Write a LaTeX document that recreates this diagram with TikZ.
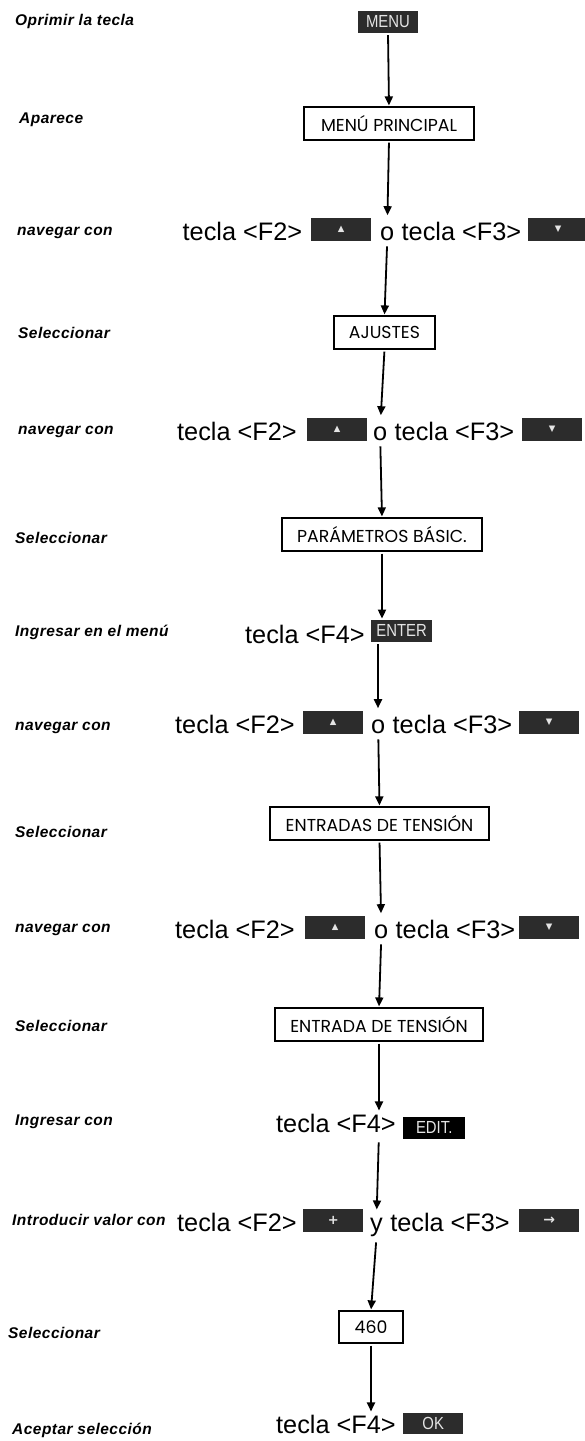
\documentclass[tikz,border=0pt]{standalone}
\usepackage{fontspec}
\setmainfont{Liberation Sans}
\newfontfamily\boxfont{Poppins}
\newfontfamily\symfont{DejaVu Sans}
\newfontfamily\keyfont[FakeStretch=0.85]{Liberation Sans}
\newfontfamily\lblfont[LetterSpace=3]{Liberation Sans}
\usetikzlibrary{arrows.meta,calc}
\definecolor{keygray}{HTML}{2C2C2C}
\definecolor{keytext}{HTML}{E4E4E4}
\tikzset{
  lbl/.style={font=\lblfont\fontsize{15.5}{17}\selectfont\bfseries\itshape, anchor=west, inner sep=0},
  big/.style={font=\fontsize{25.3}{28}\selectfont, inner sep=0, anchor=base west},
  key/.style={fill=keygray, text=keytext, minimum width=60pt, minimum height=23pt, inner sep=0, anchor=south west, font=\keyfont\fontsize{17.5}{18}\selectfont},
  menubox/.style={draw=black, line width=1.2pt, fill=white, minimum height=33pt, inner sep=0, font=\boxfont\fontsize{17.3}{19}\selectfont},
  arr/.style={line width=1.8pt, -{Triangle[length=9pt,width=8pt]}, shorten >=1pt, shorten <=2pt},
}
\newcommand{\navrow}[8]{%
  \node[big] (#1a) at (#3,#2) {tecla <F2>};
  \node[key] (#1k) at (#4,#2+1) {#7};
  \node[big] (#1o) at (#5,#2) {#8};
  \node[big] (#1b) at ([xshift=7pt]#1o.base east) {tecla <F3>};
  \node[key] (#1m) at (#6,#2+1) {\ifx#8y\symfont\bfseries\fontsize{14}{14}\selectfont→\else\symfont\fontsize{8.5}{8.5}\selectfont▼\fi};
}
\begin{document}
\begin{tikzpicture}[x=1pt,y=-1pt]
\useasboundingbox[fill=white] (0,0) rectangle (584,1441);
\def\up{\symfont\fontsize{8.5}{8.5}\selectfont▲}
\def\plus{\symfont\bfseries\fontsize{13}{13}\selectfont+}
% row 1
\node[lbl] (l1) at (15,21) {Oprimir la tecla};
\node[key, anchor=center, minimum width=60pt, minimum height=22pt] (menu) at (388,22) {MENU};
% row 2
\node[lbl] (l2) at (19,120) {Aparece};
\node[menubox, minimum width=170pt] (mp) at (389,123.5) {MENÚ PRINCIPAL};
% row 3
\node[lbl] (l3) at (17,233) {navegar con};
\navrow{r3}{240}{182.5}{311}{380}{528}{\up}{o}
% row 4
\node[lbl] (l4) at (18,333) {Seleccionar};
\node[menubox, minimum width=101pt] (aj) at (384.5,332.5) {AJUSTES};
% row 5
\node[lbl] (l5) at (18,432) {navegar con};
\navrow{r5}{440}{177}{307}{373}{522}{\up}{o}
% row 6
\node[lbl] (l6) at (15,538) {Seleccionar};
\node[menubox, minimum width=200pt] (pb) at (382,534.5) {PARÁMETROS BÁSIC.};
% row 7
\node[lbl] (l7) at (15,632) {Ingresar en el menú};
\node[big] (t7) at (245,643) {tecla <F4>};
\node[key, minimum width=61pt, minimum height=22pt] (enter) at (371,642) {ENTER};
% row 8
\node[lbl] (l8) at (15,728) {navegar con};
\navrow{r8}{733}{175}{303}{371}{519}{\up}{o}
% row 9
\node[lbl] (l9) at (15,832) {Seleccionar};
\node[menubox, minimum width=219pt] (es) at (379.5,823.5) {ENTRADAS DE TENSIÓN};
% row 10
\node[lbl] (l10) at (15,930) {navegar con};
\navrow{r10}{938}{175}{305}{374}{519}{\up}{o}
% row 11
\node[lbl] (l11) at (15,1026) {Seleccionar};
\node[menubox, minimum width=208pt] (e1) at (379,1024.5) {ENTRADA DE TENSIÓN};
% row 12
\node[lbl] (l12) at (15,1122) {Ingresar con};
\node[big] (t12) at (276,1132) {tecla <F4>};
\node[key, fill=black, minimum width=62pt, minimum height=22pt] (edit) at (403,1139) {EDIT.};
% row 13
\node[lbl] (l13) at (12,1220) {Introducir valor con};
\navrow{r13}{1231}{177}{303}{370}{519}{\plus}{y}
% row 14
\node[lbl] (l14) at (8,1333) {Seleccionar};
\node[menubox, minimum width=64pt, minimum height=32pt] (v460) at (371,1327) {460};
% row 15
\node[lbl] (l15) at (12,1430) {Aceptar selección};
\node[big] (t15) at (276,1433) {tecla <F4>};
\node[key, minimum width=60pt, minimum height=21pt] (ok) at (403,1434) {OK};
% connectors
\draw[arr] (menu.south) -- (mp.north);
\draw[arr, shorten >=11pt] (mp.south) -- (r3o.north);
\draw[arr, shorten <=6pt] (r3o.south) -- (aj.north);
\draw[arr, shorten >=11pt] (aj.south) -- (r5o.north);
\draw[arr, shorten <=6pt] (r5o.south) -- (pb.north);
\draw[arr] (pb.south) -- (pb.south |- enter.north);
\draw[arr, shorten >=11pt] (enter.south west) ++(7,0) coordinate (ea) -- (ea |- r8o.north);
\draw[arr, shorten <=6pt] (r8o.south) -- (es.north);
\draw[arr, shorten >=11pt] (es.south) -- (r10o.north);
\draw[arr, shorten <=6pt] (r10o.south) -- (e1.north);
\draw[arr, shorten >=3pt] (e1.south) -- (e1.south |- t12.north);
\draw[arr, shorten <=10pt, shorten >=8pt] (e1.south |- t12.south) -- (r13o.north);
\draw[arr, shorten <=6pt] (r13o.south) -- (v460.north);
\draw[arr, shorten >=3pt] (v460.south) -- (v460.south |- t15.north);
\end{tikzpicture}
\end{document}
